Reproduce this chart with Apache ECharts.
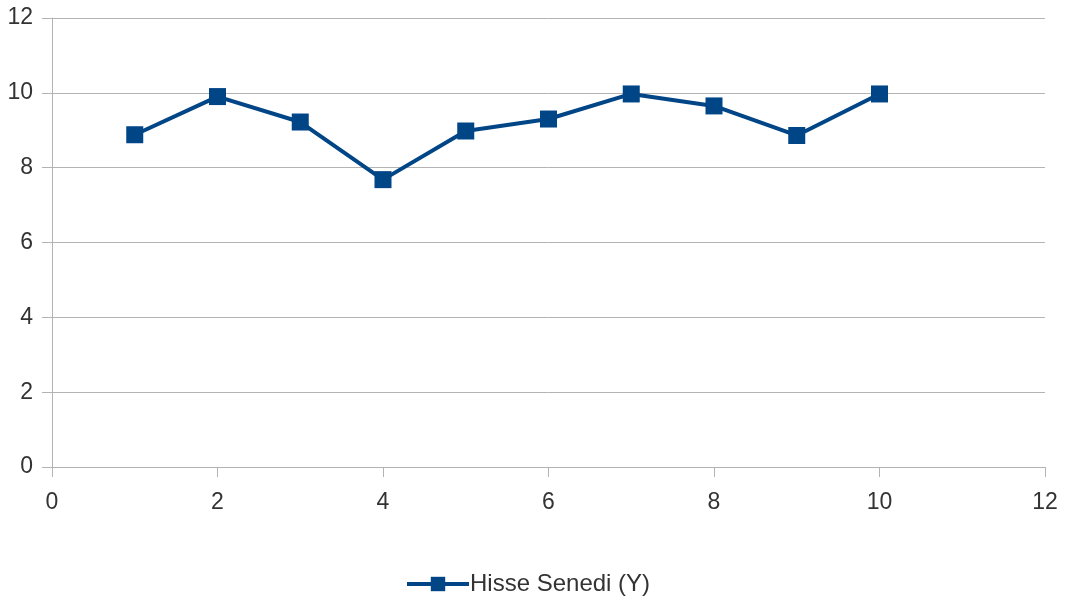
<!DOCTYPE html>
<html><head><meta charset="utf-8">
<script src="https://cdn.jsdelivr.net/npm/echarts@6/dist/echarts.min.js"></script>
<style>html,body{margin:0;padding:0;background:#fff}#c{width:1070px;height:605px}</style>
</head><body><div id="c"></div>
<script>
const seriesName = 'Hisse Senedi (Y)';
const xValues = [1, 2, 3, 4, 5, 6, 7, 8, 9, 10];
const yValues = [8.88, 9.9, 9.22, 7.68, 8.98, 9.3, 9.97, 9.65, 8.86, 9.97];
const data = xValues.map((x, i) => [x, yValues[i]]);
const chart = echarts.init(document.getElementById('c'));
const font = 'Liberation Sans, Arial, sans-serif';
chart.setOption({
  animation: false,
  grid: { left: 52, right: 25, top: 18, bottom: 138 },
  xAxis: {
    type: 'value', min: 0, max: 12, interval: 2,
    axisLine: { show: true, lineStyle: { color: '#b3b3b3', width: 1 } },
    axisTick: { show: true, length: 10, lineStyle: { color: '#b3b3b3' } },
    splitLine: { show: false },
    axisLabel: { color: '#333', fontSize: 23, fontFamily: font, margin: 24 }
  },
  yAxis: {
    type: 'value', min: 0, max: 12, interval: 2,
    axisLine: { show: true, lineStyle: { color: '#b3b3b3', width: 1 } },
    axisTick: { show: true, length: 10, lineStyle: { color: '#b3b3b3' } },
    splitLine: { show: true, lineStyle: { color: '#b3b3b3', width: 1 } },
    axisLabel: { color: '#333', fontSize: 23, fontFamily: font, margin: 19 }
  },
  legend: {
    bottom: 4, left: 400,
    itemWidth: 62, itemHeight: 18, itemGap: 10,
    lineStyle: { width: 4 },
    textStyle: { color: '#333', fontSize: 24, fontFamily: font, padding: [0, 0, 0, -4] },
    data: [{ name: seriesName }]
  },
  series: [{
    name: seriesName, type: 'line', data: data,
    symbol: 'rect', symbolSize: 17,
    lineStyle: { color: '#004586', width: 4 },
    itemStyle: { color: '#004586' }
  }]
});
</script></body></html>
